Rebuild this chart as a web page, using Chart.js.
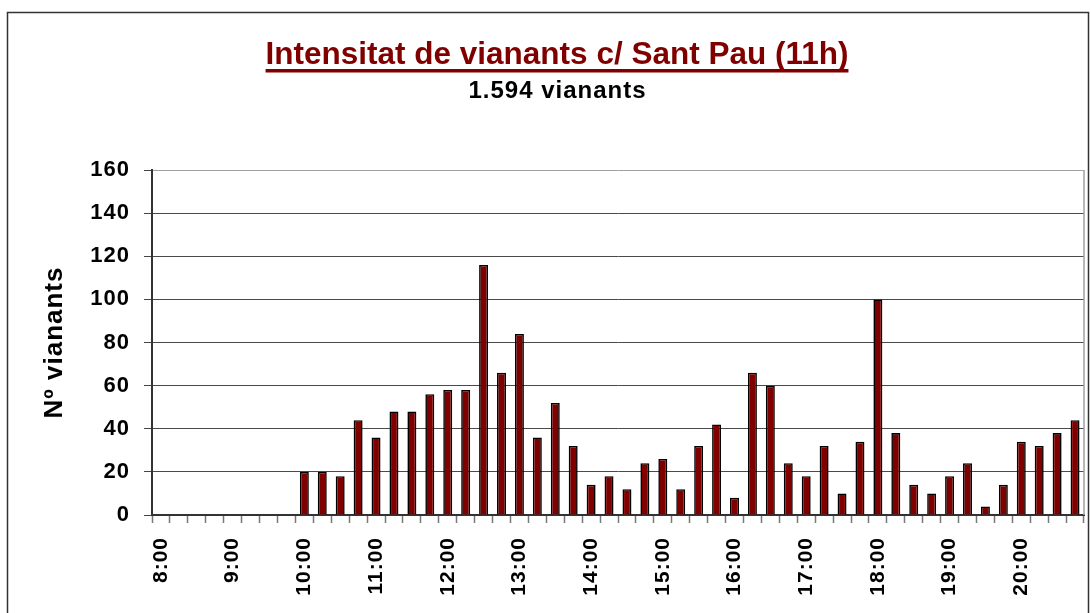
<!DOCTYPE html>
<html><head><meta charset="utf-8">
<script src="https://cdn.jsdelivr.net/npm/chart.js@4.4.1/dist/chart.umd.min.js"></script>
<style>html,body{margin:0;padding:0;background:#fff}canvas{display:block}</style>
</head><body>
<canvas id="c" width="1091" height="613"></canvas>
<script>
const categories = ['8:00','8:15','8:30','8:45','9:00','9:15','9:30','9:45',
  '10:00','10:15','10:30','10:45','11:00','11:15','11:30','11:45',
  '12:00','12:15','12:30','12:45','13:00','13:15','13:30','13:45',
  '14:00','14:15','14:30','14:45','15:00','15:15','15:30','15:45',
  '16:00','16:15','16:30','16:45','17:00','17:15','17:30','17:45',
  '18:00','18:15','18:30','18:45','19:00','19:15','19:30','19:45',
  '20:00','20:15','20:30','20:45'];
const pedestrians = [0,0,0,0,0,0,0,0,
  20,20,18,44,36,48,48,56,
  58,58,116,66,84,36,52,32,
  14,18,12,24,26,12,32,42,
  8,66,60,24,18,32,10,34,
  100,38,14,10,18,24,4,14,
  34,32,38,44];
const hourLabels = ['8:00','9:00','10:00','11:00','12:00','13:00','14:00','15:00','16:00','17:00','18:00','19:00','20:00'];
const yTicks = [0,20,40,60,80,100,120,140,160];
const titleText = 'Intensitat de vianants c/ Sant Pau (11h)';
const subtitleText = '1.594 vianants';
const yAxisTitle = 'Nº vianants';

const FAMILY = '"Liberation Sans", Arial, Helvetica, sans-serif';

const decor = {
  id: 'decor',
  beforeDraw(chart) {
    const ctx = chart.ctx;
    ctx.save();
    ctx.fillStyle = '#fff';
    ctx.fillRect(0, 0, chart.width, chart.height);
    ctx.strokeStyle = '#333';
    ctx.lineWidth = 1.5;
    ctx.beginPath();
    ctx.moveTo(7.5, chart.height + 5);
    ctx.lineTo(7.5, 12.5);
    ctx.lineTo(1088.5, 12.5);
    ctx.lineTo(1088.5, chart.height + 5);
    ctx.stroke();
    const cx = 557;
    ctx.font = 'bold 31.5px ' + FAMILY;
    ctx.fillStyle = '#800000';
    ctx.textAlign = 'center';
    ctx.textBaseline = 'alphabetic';
    ctx.fillText(titleText, cx, 64);
    const w = ctx.measureText(titleText).width;
    ctx.fillRect(cx - w / 2, 69, w, 3.5);
    ctx.font = 'bold 24px ' + FAMILY;
    ctx.fillStyle = '#000';
    try { ctx.letterSpacing = '1px'; } catch (e) {}
    ctx.fillText(subtitleText, cx + 0.5, 98);
    ctx.restore();
    try { ctx.letterSpacing = '1px'; } catch (e) {}
  },
  afterDatasetsDraw(chart) {
    const ctx = chart.ctx, a = chart.chartArea;
    ctx.save();
    ctx.strokeStyle = '#a0a0a0';
    ctx.lineWidth = 1.5;
    ctx.beginPath();
    ctx.moveTo(a.right, a.top);
    ctx.lineTo(a.right, a.bottom);
    ctx.stroke();
    ctx.restore();
  },
  afterDraw(chart) {
    try { chart.ctx.letterSpacing = '0px'; } catch (e) {}
  }
};

new Chart(document.getElementById('c'), {
  type: 'bar',
  data: {
    labels: categories,
    datasets: [{
      data: pedestrians,
      backgroundColor: '#800000',
      borderColor: '#000',
      borderWidth: 1.6,
      barPercentage: 0.5,
      categoryPercentage: 1.0
    }]
  },
  options: {
    responsive: false,
    animation: false,
    layout: { padding: { top: 170, right: 7, left: 0, bottom: 0 } },
    plugins: { legend: { display: false }, tooltip: { enabled: false } },
    scales: {
      x: {
        type: 'category',
        offset: true,
        grid: { offset: true, drawOnChartArea: false, drawTicks: true, tickLength: 8, tickColor: '#777', tickWidth: 1.5 },
        border: { color: '#333', width: 2 },
        ticks: {
          autoSkip: false, maxRotation: 90, minRotation: 90, padding: 14, color: '#000',
          font: { family: FAMILY, size: 21, weight: 'bold' },
          callback(v, i) { const l = categories[i]; return hourLabels.includes(l) ? l : ''; }
        },
        afterFit(s) { s.height = 98; s.paddingLeft = 0; s.paddingRight = 0; }
      },
      y: {
        min: 0, max: 160,
        afterBuildTicks(s) { s.ticks = yTicks.map(v => ({ value: v })); },
        ticks: { padding: 14, color: '#000', font: { family: FAMILY, size: 22, weight: 'bold' } },
        grid: {
          color: c => (c.tick && c.tick.value === 160) ? '#a0a0a0' : '#4a4a4a',
          lineWidth: 1, tickLength: 8, tickColor: '#444'
        },
        border: { color: '#333', width: 2 },
        title: { display: true, text: yAxisTitle, color: '#000', font: { family: FAMILY, size: 26, weight: 'bold' }, padding: { top: 39, bottom: 0 } },
        afterFit(s) { s.width = 152; }
      }
    }
  },
  plugins: [decor]
});
</script>
</body></html>
